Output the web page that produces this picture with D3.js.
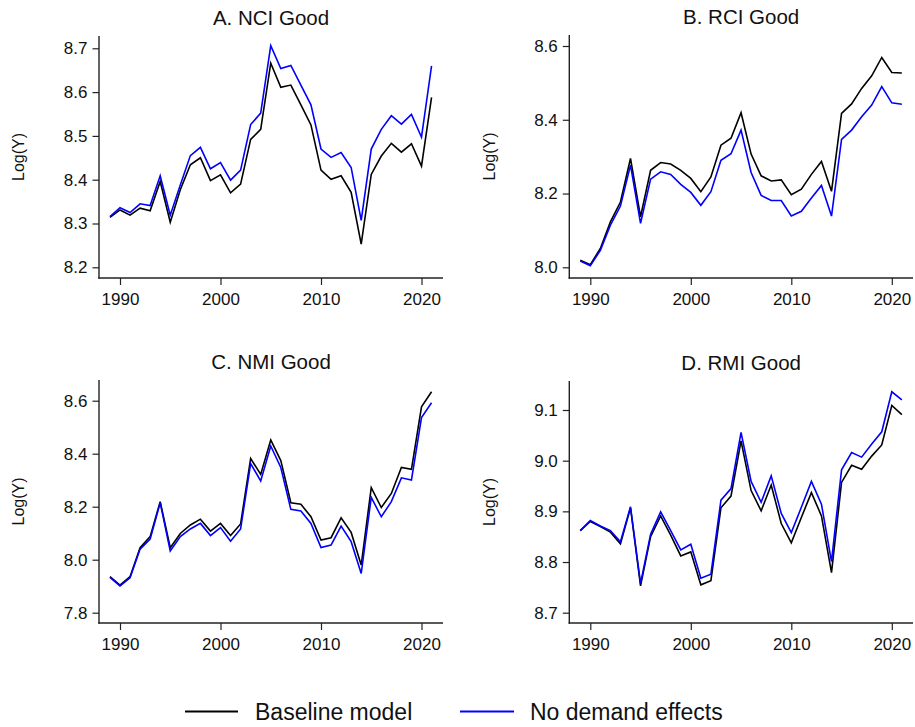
<!DOCTYPE html>
<html>
<head>
<meta charset="utf-8">
<script src="https://cdn.jsdelivr.net/npm/d3@7"></script>
<style>
  html, body { margin: 0; padding: 0; background: #fff; }
  svg { display: block; font-family: "Liberation Sans", Arial, Helvetica, sans-serif; }
</style>
</head>
<body>
<svg id="chart" width="915" height="727"></svg>
<script>
// Years covered by every panel
const years = [1989, 1990, 1991, 1992, 1993, 1994, 1995, 1996, 1997, 1998, 1999,
  2000, 2001, 2002, 2003, 2004, 2005, 2006, 2007, 2008, 2009, 2010,
  2011, 2012, 2013, 2014, 2015, 2016, 2017, 2018, 2019, 2020, 2021];

const xTicks = [1990, 2000, 2010, 2020];

// A. NCI Good
const nciBaseline = [8.314, 8.331, 8.319, 8.335, 8.329, 8.396, 8.303, 8.377, 8.434, 8.450, 8.398,
  8.411, 8.370, 8.390, 8.492, 8.515, 8.666, 8.611, 8.616, 8.571, 8.525, 8.422,
  8.401, 8.409, 8.371, 8.253, 8.412, 8.454, 8.483, 8.463, 8.482, 8.431, 8.588];
const nciNoDemand = [8.316, 8.336, 8.325, 8.345, 8.341, 8.409, 8.319, 8.388, 8.455, 8.474, 8.425,
  8.439, 8.399, 8.422, 8.526, 8.552, 8.706, 8.654, 8.661, 8.616, 8.571, 8.470,
  8.451, 8.462, 8.428, 8.307, 8.470, 8.515, 8.546, 8.527, 8.549, 8.497, 8.660];
const nciTicks = [8.2, 8.3, 8.4, 8.5, 8.6, 8.7];

// B. RCI Good
const rciBaseline = [8.019, 8.007, 8.051, 8.123, 8.177, 8.295, 8.137, 8.263, 8.284, 8.280, 8.263,
  8.241, 8.205, 8.245, 8.331, 8.350, 8.419, 8.307, 8.248, 8.234, 8.237, 8.197,
  8.212, 8.252, 8.287, 8.206, 8.417, 8.443, 8.485, 8.519, 8.569, 8.528, 8.527];
const rciNoDemand = [8.017, 8.004, 8.046, 8.114, 8.166, 8.277, 8.119, 8.239, 8.259, 8.252, 8.225,
  8.203, 8.168, 8.205, 8.290, 8.308, 8.372, 8.257, 8.195, 8.181, 8.181, 8.139,
  8.152, 8.188, 8.222, 8.139, 8.347, 8.372, 8.408, 8.440, 8.490, 8.446, 8.442];
const rciTicks = [8.0, 8.2, 8.4, 8.6];

// C. NMI Good
const nmiBaseline = [7.936, 7.904, 7.936, 8.045, 8.087, 8.219, 8.045, 8.099, 8.131, 8.153, 8.108,
  8.137, 8.091, 8.135, 8.382, 8.322, 8.452, 8.374, 8.215, 8.209, 8.162, 8.074,
  8.083, 8.158, 8.103, 7.980, 8.272, 8.197, 8.250, 8.348, 8.341, 8.577, 8.634];
const nmiNoDemand = [7.933, 7.901, 7.932, 8.040, 8.078, 8.215, 8.033, 8.087, 8.116, 8.137, 8.091,
  8.121, 8.070, 8.116, 8.363, 8.297, 8.429, 8.348, 8.190, 8.184, 8.137, 8.046,
  8.055, 8.127, 8.068, 7.948, 8.235, 8.162, 8.219, 8.309, 8.301, 8.536, 8.592];
const nmiTicks = [7.8, 8.0, 8.2, 8.4, 8.6];

// D. RMI Good
const rmiBaseline = [8.862, 8.880, 8.870, 8.859, 8.836, 8.907, 8.753, 8.850, 8.891, 8.853, 8.812,
  8.820, 8.755, 8.763, 8.907, 8.930, 9.039, 8.941, 8.901, 8.952, 8.876, 8.838,
  8.888, 8.937, 8.891, 8.779, 8.957, 8.991, 8.983, 9.009, 9.031, 9.109, 9.091];
const rmiNoDemand = [8.862, 8.882, 8.871, 8.862, 8.840, 8.909, 8.758, 8.855, 8.899, 8.862, 8.824,
  8.835, 8.768, 8.776, 8.922, 8.945, 9.056, 8.959, 8.918, 8.970, 8.896, 8.858,
  8.908, 8.959, 8.914, 8.801, 8.982, 9.016, 9.007, 9.033, 9.057, 9.136, 9.120];
const rmiTicks = [8.7, 8.8, 8.9, 9.0, 9.1];

const seriesNames = ["Baseline model", "No demand effects"];
const seriesColors = ["#000000", "#0000ff"];

// Panel frames: axis extents and where the outer y ticks fall
const panels = [
  { title: "A. NCI Good", base: nciBaseline, alt: nciNoDemand, ticks: nciTicks,
    x0: 99, x1: 443, y0: 36, y1: 278, tickLo: 267.3, tickHi: 48.3, labelX: 24 },
  { title: "B. RCI Good", base: rciBaseline, alt: rciNoDemand, ticks: rciTicks,
    x0: 569.3, x1: 913, y0: 35, y1: 278, tickLo: 267.3, tickHi: 46, labelX: 495 },
  { title: "C. NMI Good", base: nmiBaseline, alt: nmiNoDemand, ticks: nmiTicks,
    x0: 99, x1: 443, y0: 380, y1: 623, tickLo: 612.7, tickHi: 400.7, labelX: 24 },
  { title: "D. RMI Good", base: rmiBaseline, alt: rmiNoDemand, ticks: rmiTicks,
    x0: 569.3, x1: 913, y0: 381, y1: 623, tickLo: 612.7, tickHi: 410, labelX: 495 }
];

const svg = d3.select("#chart");
const axisColor = "#222";

panels.forEach(p => {
  const g = svg.append("g");

  const x = d3.scaleLinear()
    .domain([1990, 2020])
    .range([p.x0 + 21, p.x0 + 322.5]);
  const y = d3.scaleLinear()
    .domain([p.ticks[0], p.ticks[p.ticks.length - 1]])
    .range([p.tickLo, p.tickHi]);

  // y axis
  const ya = g.append("g")
    .attr("transform", `translate(${p.x0},0)`)
    .call(d3.axisLeft(y).tickValues(p.ticks).tickFormat(d3.format(".1f"))
      .tickSize(6.5).tickPadding(5));
  ya.select(".domain").remove();
  ya.append("line").attr("x1", 0).attr("x2", 0).attr("y1", p.y0).attr("y2", p.y1 + 0.7)
    .attr("stroke", axisColor).attr("stroke-width", 1.4);

  // x axis
  const xa = g.append("g")
    .attr("transform", `translate(0,${p.y1})`)
    .call(d3.axisBottom(x).tickValues(xTicks).tickFormat(d3.format("d"))
      .tickSize(7).tickPadding(8));
  xa.select(".domain").remove();
  xa.append("line").attr("x1", p.x0 - 0.7).attr("x2", p.x1).attr("y1", 0).attr("y2", 0)
    .attr("stroke", axisColor).attr("stroke-width", 1.4);

  [ya, xa].forEach(a => {
    a.selectAll(".tick line").attr("stroke", axisColor).attr("stroke-width", 1.2);
    a.selectAll(".tick text").attr("fill", "#111").style("font-size", "17px")
      .style("font-family", "'Liberation Sans', Arial, sans-serif");
  });

  // series lines
  const line = d3.line().x((d, i) => x(years[i])).y(d => y(d));
  [p.base, p.alt].forEach((vals, k) => {
    g.append("path")
      .datum(vals)
      .attr("d", line)
      .attr("fill", "none")
      .attr("stroke", seriesColors[k])
      .attr("stroke-width", 1.6)
      .attr("stroke-linejoin", "miter");
  });

  // panel title
  g.append("text")
    .attr("x", (p.x0 + p.x1) / 2)
    .attr("y", p.y0 - 11)
    .attr("text-anchor", "middle")
    .attr("fill", "#111")
    .style("font-size", "20.5px")
    .text(p.title);

  // y axis title
  g.append("text")
    .attr("transform", `translate(${p.labelX},${(p.y0 + p.y1) / 2}) rotate(-90)`)
    .attr("text-anchor", "middle")
    .attr("fill", "#111")
    .style("font-size", "16px")
    .text("Log(Y)");
});

// legend
const legend = svg.append("g");
const legendItems = [
  { lx0: 185, lx1: 238, tx: 255 },
  { lx0: 460, lx1: 514, tx: 530 }
];
legendItems.forEach((it, k) => {
  legend.append("line")
    .attr("x1", it.lx0).attr("x2", it.lx1)
    .attr("y1", 711.5).attr("y2", 711.5)
    .attr("stroke", seriesColors[k]).attr("stroke-width", 1.8);
  legend.append("text")
    .attr("x", it.tx).attr("y", 720)
    .attr("fill", "#111")
    .style("font-size", "23px")
    .text(seriesNames[k]);
});
</script>
</body>
</html>
